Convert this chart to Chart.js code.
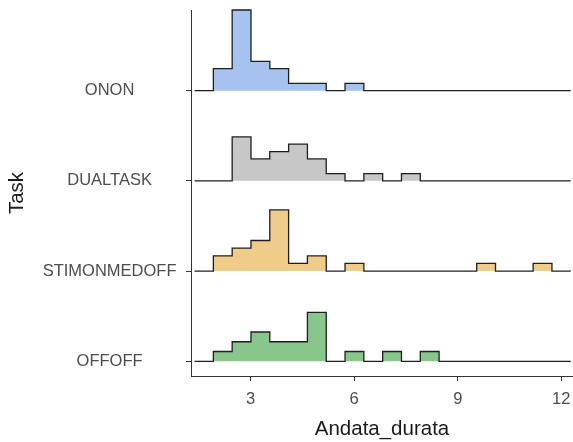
<!DOCTYPE html>
<html>
<head>
<meta charset="utf-8">
<script src="https://cdn.jsdelivr.net/npm/chart.js@4.4.1/dist/chart.umd.min.js"></script>
<style>
html, body { margin: 0; padding: 0; background: #fff; }
</style>
</head>
<body>
<canvas id="ridges" width="573" height="442"></canvas>
<script>
// tasks, bottom ridge first
var tasks = ['OFFOFF', 'STIMONMEDOFF', 'DUALTASK', 'ONON'];
var taskColors = ['#89c68b', '#f0cc8b', '#c7c7c7', '#a6c3f0'];

// histogram bin edges on Andata_durata (20 bins)
var binEdges = [1.375, 1.92, 2.465, 3.01, 3.555, 4.10, 4.645, 5.19, 5.735, 6.28, 6.825,
                7.37, 7.915, 8.46, 9.005, 9.55, 10.095, 10.64, 11.185, 11.73, 12.275];

// counts per bin for each task
var countsOFFOFF       = [0, 1, 2, 3, 2, 2, 5, 0, 1, 0, 1, 0, 1, 0, 0, 0, 0, 0, 0, 0];
var countsSTIMONMEDOFF = [0, 2, 3, 4, 8, 1, 2, 0, 1, 0, 0, 0, 0, 0, 0, 1, 0, 0, 1, 0];
var countsDUALTASK     = [0, 0, 6, 3, 4, 5, 3, 1, 0, 1, 0, 1, 0, 0, 0, 0, 0, 0, 0, 0];
var countsONON         = [0, 3, 11, 4, 3, 1, 1, 0, 1, 0, 0, 0, 0, 0, 0, 0, 0, 0, 0, 0];

var xTicks = [3, 6, 9, 12];

// height of density in y units (ridge scale)
var ridgeScale = 1.95;
var font = 'Liberation Sans, Arial, Helvetica, sans-serif';

var buildRidge = function(counts, base){
    var total = 0;
    for (var i = 0; i < counts.length; i++) total += counts[i];
    var pts = [];
    for (i = 0; i < counts.length; i++) {
        pts.push({x: binEdges[i], y: base + counts[i] / total * ridgeScale});
    }
    pts.push({x: binEdges[counts.length], y: base + counts[counts.length - 1] / total * ridgeScale});
    return pts;
};

// drop the label overflow padding so the plot area is fixed
var noPad = function(s){
    s.paddingTop = 0; s.paddingBottom = 0; s.paddingLeft = 0; s.paddingRight = 0;
};

var allCounts = [countsOFFOFF, countsSTIMONMEDOFF, countsDUALTASK, countsONON];
var datasets = [];
for (var t = 0; t < tasks.length; t++) {
    datasets.push({
        label: tasks[t],
        data: buildRidge(allCounts[t], t + 1),
        stepped: 'before',
        borderColor: '#1f1f1f',
        borderWidth: 1.3,
        backgroundColor: taskColors[t],
        fill: {value: t + 1},
        pointRadius: 0,
        clip: false
    });
}

var ctx = document.getElementById('ridges').getContext('2d');
var chartObj = new Chart(ctx, {
    type: 'line',
    data: {datasets: datasets},
    options: {
        responsive: false,
        devicePixelRatio: 1,
        animation: false,
        events: [],
        layout: {padding: {top: 10, right: 0, bottom: 0, left: 0}},
        plugins: {legend: {display: false}, tooltip: {enabled: false}},
        scales: {
            x: {
                type: 'linear',
                min: 1.272,
                max: 12.34,
                afterBuildTicks: function(s){
                    s.ticks = xTicks.map(function(v){ return {value: v}; });
                },
                afterFit: function(s){ s.height = 66; noPad(s); },
                ticks: {color: '#4d4d4d', font: {family: font, size: 16.5}, padding: 8.6, maxRotation: 0, autoSkip: false},
                grid: {drawOnChartArea: false, tickLength: 5, color: '#333'},
                border: {color: '#333', width: 1},
                title: {display: true, text: 'Andata_durata', color: '#1a1a1a',
                        font: {family: font, size: 20.5, lineHeight: 1.2}, padding: {top: 0, bottom: 0}}
            },
            y: {
                type: 'linear',
                min: 0.837,
                max: 4.894,
                afterBuildTicks: function(s){
                    s.ticks = tasks.map(function(n, i){ return {value: i + 1}; });
                },
                afterFit: function(s){ s.width = 191; noPad(s); },
                ticks: {
                    callback: function(v, i){ return tasks[i]; },
                    crossAlign: 'center', padding: 9.5, color: '#4d4d4d',
                    font: {family: font, size: 16.5}, autoSkip: false
                },
                grid: {drawOnChartArea: false, tickLength: 5, color: '#333'},
                border: {color: '#333', width: 1},
                title: {display: true, text: 'Task', color: '#1a1a1a',
                        font: {family: font, size: 20.5}, padding: {top: 5}}
            }
        }
    }
});
</script>
</body>
</html>
